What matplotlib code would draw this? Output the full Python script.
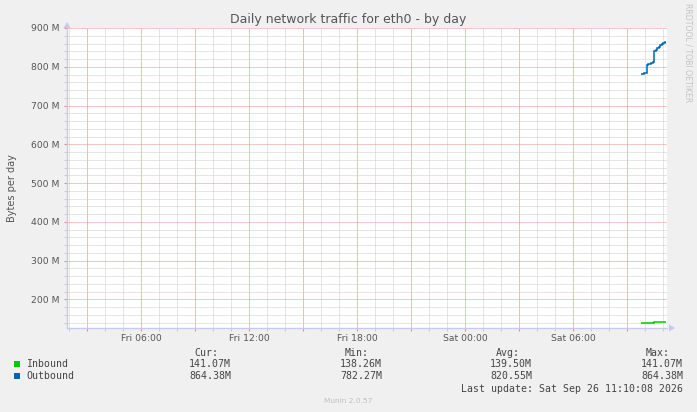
import matplotlib
matplotlib.use("Agg")
import matplotlib.pyplot as plt
import matplotlib.dates as mdates
from matplotlib.ticker import MultipleLocator, FuncFormatter
import pandas as pd
import numpy as np

# ---- data ----
title = "Daily network traffic for eth0 - by day"
ylabel = "Bytes per day"
series_names = ["Inbound", "Outbound"]
series_colors = ["#00CC00", "#0066B3"]
# 5-minute sample edges
edges = pd.date_range("2026-09-26 09:45", "2026-09-26 11:10", freq="5min")
inbound = [138.26, 138.3, 138.3, 138.3, 138.3, 138.3, 138.3, 138.3, 138.3,
           140.9, 141.0, 141.0, 141.0, 141.0, 141.05, 141.05, 141.07]
outbound = [782.27, 782.5, 783, 785, 804, 806, 808, 810, 811,
            840, 843, 848, 852, 855, 859, 861, 864.38]
x_start = pd.Timestamp("2026-09-25 01:53:20")
x_end = pd.Timestamp("2026-09-26 11:13:20")
y_min, y_max = 126e6, 900e6
stat_headers = ["Cur:", "Min:", "Avg:", "Max:"]
stats = {
    "Inbound": ["141.07M", "138.26M", "139.50M", "141.07M"],
    "Outbound": ["864.38M", "782.27M", "820.55M", "864.38M"],
}
last_update = "Last update: Sat Sep 26 11:10:08 2026"
footer = "Munin 2.0.57"
side_text = "RRDTOOL / TOBI OETIKER"

# ---- figure ----
W, H = 697, 412
fig = plt.figure(figsize=(W / 100, H / 100), dpi=100, facecolor="#F0F0F0")

def fx(x):
    return x / W

def fy(y):
    return 1 - y / H

L, R, T, B = 67, 667, 28, 328
ax = fig.add_axes([fx(L), fy(B), fx(R) - fx(L), fy(T) - fy(B)])
ax.set_facecolor("white")

e_num = mdates.date2num(edges.to_pydatetime())
ax.stairs(np.array(inbound) * 1e6, e_num, baseline=None,
          color=series_colors[0], lw=1.1, zorder=5)
ax.stairs(np.array(outbound) * 1e6, e_num, baseline=None,
          color=series_colors[1], lw=1.1, zorder=5)

ax.set_xlim(mdates.date2num(x_start.to_pydatetime()),
            mdates.date2num(x_end.to_pydatetime()))
ax.set_ylim(y_min, y_max)

# x axis: major every 3 h (labels every 6 h), minor every hour
ax.xaxis.set_major_locator(mdates.HourLocator(byhour=range(0, 24, 3)))
ax.xaxis.set_minor_locator(
    mdates.HourLocator(byhour=[h for h in range(24) if h % 3]))

def xfmt(v, pos):
    d = mdates.num2date(v)
    if d.hour % 6 == 0:
        return d.strftime("%a %H:%M")
    return ""

ax.xaxis.set_major_formatter(FuncFormatter(xfmt))
ax.xaxis.set_minor_formatter(FuncFormatter(lambda v, p: ""))

# y axis
ax.yaxis.set_major_locator(MultipleLocator(100e6))
ax.yaxis.set_minor_locator(MultipleLocator(20e6))
ax.yaxis.set_major_formatter(FuncFormatter(lambda v, p: f"{v/1e6:.0f} M"))

red = "#EE8C8C"
red_v = "#F07474"
gray = "#CCCCCC"
dot = (0, (1, 1))
ax.grid(which="minor", color=gray, lw=0.72, linestyle=dot, snap=True)
ax.yaxis.grid(which="major", color=red, lw=0.72, linestyle=dot, snap=True)
ax.xaxis.grid(which="major", color=red_v, lw=0.72, linestyle=dot, snap=True)
ax.set_axisbelow(True)

for s in ["top", "right"]:
    ax.spines[s].set_visible(False)
axcol = "#C8C8F4"
ax.spines["left"].set_color(axcol)
ax.spines["bottom"].set_color(axcol)
ax.spines["left"].set_linewidth(1.0)
ax.spines["bottom"].set_linewidth(1.0)

ax.tick_params(axis="x", which="major", colors=red, length=2, width=0.8,
               labelcolor="#555555", labelsize=6.7, pad=2.5)
ax.tick_params(axis="x", which="minor", colors=gray, length=2, width=0.8)
ax.tick_params(axis="y", which="major", colors=red, length=2, width=0.8,
               labelcolor="#555555", labelsize=6.7, pad=3.5)
ax.tick_params(axis="y", which="minor", colors=gray, length=2, width=0.8)

# axis arrows
fig.patches.append(matplotlib.patches.FancyArrow(
    fx(L), fy(B), 0, fy(T - 6) - fy(B), width=0.0, head_width=fx(7),
    head_length=(fy(0) - fy(6)), length_includes_head=True,
    color=axcol, transform=fig.transFigure, figure=fig, lw=0))
fig.patches.append(matplotlib.patches.FancyArrow(
    fx(L), fy(B), fx(675) - fx(L), 0, width=0.0, head_width=(fy(0) - fy(7)),
    head_length=fx(6), length_includes_head=True,
    color=axcol, transform=fig.transFigure, figure=fig, lw=0))

# titles
fig.text(fx(348), fy(19), title, ha="center", va="center", fontsize=9,
         color="#555555")
fig.text(fx(12), fy(188), ylabel, ha="center", va="center", rotation=90,
         fontsize=7, color="#555555")
fig.text(fx(688), fy(53), side_text, ha="center", va="center", rotation=270,
         fontsize=5.6, color="#C4C4C4")

# legend
mono = "DejaVu Sans Mono"
lcol = "#444444"
fs = 7.1
head_right = [218, 369, 520, 670]
num_right = [231, 382, 532, 683]
for h, xr in zip(stat_headers, head_right):
    fig.text(fx(xr), fy(352.5), h, ha="right", va="center", family=mono,
             fontsize=fs, color=lcol)
rows_y = [364.3, 376.3]
for name, col, yy in zip(series_names, series_colors, rows_y):
    fig.patches.append(matplotlib.patches.Rectangle(
        (fx(14), fy(yy + 3)), fx(6), fy(0) - fy(6), facecolor=col,
        edgecolor=col, lw=0, transform=fig.transFigure, figure=fig))
    fig.text(fx(26), fy(yy), name, ha="left", va="center", family=mono,
             fontsize=fs, color=lcol)
    for v, xr in zip(stats[name], num_right):
        fig.text(fx(xr), fy(yy), v, ha="right", va="center", family=mono,
                 fontsize=fs, color=lcol)
fig.text(fx(683), fy(389), last_update, ha="right", va="center", family=mono,
         fontsize=fs, color=lcol)
fig.text(fx(348), fy(401), footer, ha="center", va="center", fontsize=5.3,
         color="#C0C0C0")

fig.savefig("out.png", dpi=100, facecolor=fig.get_facecolor())
